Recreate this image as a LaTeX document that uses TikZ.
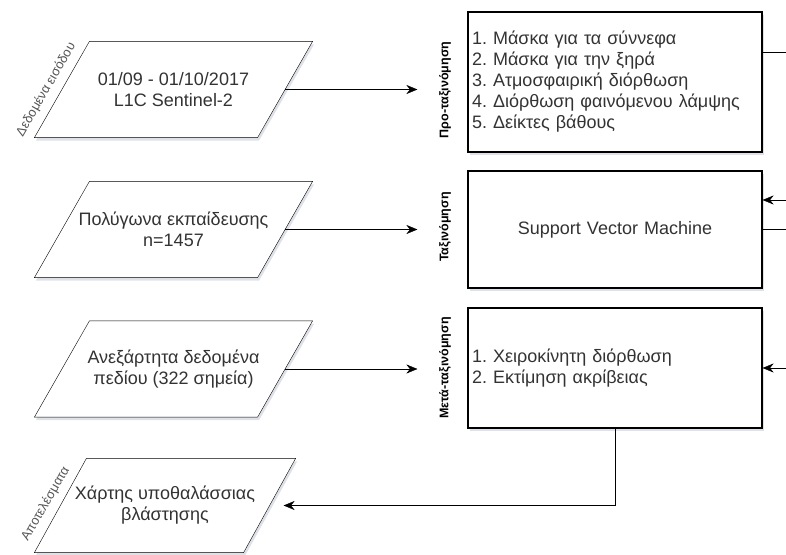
\documentclass[tikz,border=0pt]{standalone}
\usepackage{fontspec}
\setmainfont{Liberation Sans}
\frenchspacing
\usetikzlibrary{arrows.meta, shadows, backgrounds, calc}

\definecolor{txtgray}{HTML}{333333}
\definecolor{lblgray}{HTML}{555555}
\definecolor{shadowblue}{HTML}{A3AABD}

\begin{document}
\begin{tikzpicture}[x=1pt, y=1pt, >={Stealth[length=11pt, width=9pt]}, line width=1.2pt,
    every node/.style={text=txtgray, font=\fontsize{18}{21}\selectfont},
    dataio/.style={rectangle, minimum height=95pt, minimum width=222pt, inner sep=2pt, align=center},
    dataline/.style={draw, fill=white,
        drop shadow={shadow xshift=1.5pt, shadow yshift=-3pt, opacity=0.35, fill=shadowblue}},
    procbox/.style={draw, fill=white, rectangle, text width=286pt, inner sep=4pt,
        drop shadow={shadow xshift=1.5pt, shadow yshift=-3pt, opacity=0.35, fill=shadowblue}},
    stagelabel/.style={rotate=90, text=black, font=\fontsize{12.5}{14}\selectfont\bfseries},
    sidelabel/.style={rotate=60, anchor=south, text=lblgray, font=\fontsize{13}{15}\selectfont}]
                \useasboundingbox (0,0) rectangle (786,554);

                % Nodes
                \node[dataio] (p1) at (173.5, 464.5) {01/09 - 01/10/2017\\L1C Sentinel-2};
                \node[dataio] (p2) at (173.5, 324.5) {Πολύγωνα εκπαίδευσης\\n=1457};
                \node[dataio] (p3) at (173.5, 185) {Ανεξάρτητα δεδομένα\\πεδίου (322 σημεία)};
                \node[dataio, minimum height=93pt, minimum width=208pt] (p4) at (165, 48.5) {Χάρτης υποθαλάσσιας\\βλάστησης};

                \node[procbox, minimum height=140pt, align=left] (box1) at (615, 472)
                    {1. Μάσκα για τα σύννεφα\\2. Μάσκα για την ξηρά\\3. Ατμοσφαιρική διόρθωση\\4. Διόρθωση φαινόμενου λάμψης\\5. Δείκτες βάθους};
                \node[procbox, minimum height=117pt, align=center] (box2) at (615, 324.5) {Support Vector Machine};
                \node[procbox, minimum height=120pt, align=left] (box3) at (615, 186)
                    {1. Χειροκίνητη διόρθωση\\2. Εκτίμηση ακρίβειας};

                % Parallelogram outlines behind the data nodes
                \begin{pgfonlayer}{background}
                    \foreach \p/\s in {p1/27.5, p2/27.5, p3/27.5, p4/26}
                        \draw[dataline] ([xshift=-\s pt]\p.south west) -- ([xshift=\s pt]\p.north west)
                            -- ([xshift=\s pt]\p.north east) -- ([xshift=-\s pt]\p.south east) -- cycle;
                \end{pgfonlayer}

                % Labels
                \node[sidelabel] (lin) at ($(p1.west)+(150:4)+(240:8)$) {Δεδομένα εισόδου};
                \node[sidelabel] (lout) at ($(p4.west)+(150:4)+(240:6)$) {Αποτελέσματα};
                \node[stagelabel] (lpre) at (445, 464) {Προ-ταξινόμηση};
                \node[stagelabel] (lcls) at (445, 327) {Ταξινόμηση};
                \node[stagelabel] (lpost) at (445, 186) {Μετά-ταξινόμηση};

                % Free ends at the right border
                \coordinate (out1) at (786, 502);
                \coordinate (in2) at (786, 354);
                \coordinate (out2) at (786, 324.5);
                \coordinate (in3) at (786, 186);

                % Edges
                \draw[->, shorten >=50pt] (p1.east) -- (p1.east -| box1.west);
                \draw[->, shorten >=50pt] (p2.east) -- (box2.west);
                \draw[->, shorten >=50pt] (p3.east) -- (p3.east -| box3.west);
                \draw[->, shorten >=14pt] (box3.south) |- (p4.east);

                \draw (out1 -| box1.east) -- (out1);
                \draw[->] (in2) -- (in2 -| box2.east);
                \draw (box2.east) -- (out2);
                \draw[->] (in3) -- (box3.east);
            \end{tikzpicture}
\end{document}
